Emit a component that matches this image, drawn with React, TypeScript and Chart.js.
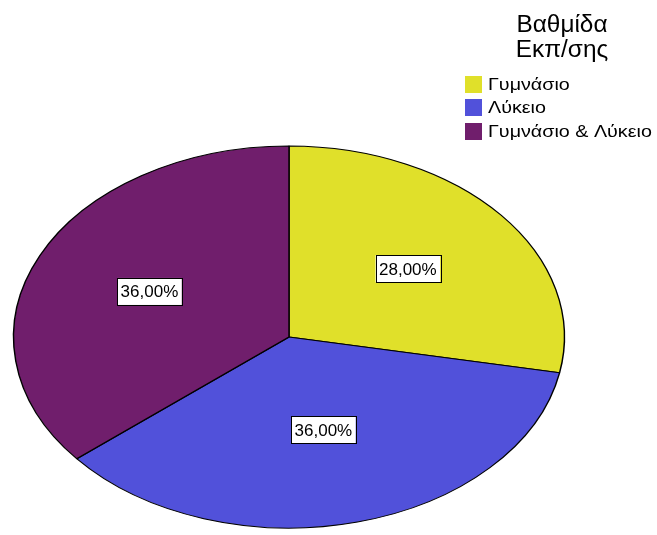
import React, { useEffect, useRef } from "react";
import { Chart, registerables } from "chart.js";

Chart.register(...registerables);

const categories = ["Γυμνάσιο", "Λύκειο", "Γυμνάσιο & Λύκειο"];
const percentValues = [28, 36, 36];
const sliceColors = ["#E0E02A", "#5151DA", "#701E6C"];
const legendTitle = ["Βαθμίδα", "Εκπ/σης"];

const SX = 274 / 190;
const FONT = '"Liberation Sans", Arial, sans-serif';

const ellipsePlugin = {
  id: "ellipse",
  beforeDatasetsDraw(chart: any) {
    const arc = chart.getDatasetMeta(0).data[0];
    if (!arc) return;
    const ctx = chart.ctx;
    ctx.save();
    ctx.translate(arc.x, arc.y);
    ctx.scale(SX, 1);
    ctx.translate(-arc.x, -arc.y);
  },
  afterDatasetsDraw(chart: any) {
    chart.ctx.restore();
  },
};

const labelPlugin = {
  id: "sliceLabels",
  afterDraw(chart: any) {
    const ctx = chart.ctx;
    const meta = chart.getDatasetMeta(0);
    const data = chart.data.datasets[0].data as number[];
    const total = data.reduce((a, b) => a + b, 0);
    ctx.save();
    ctx.font = `17px ${FONT}`;
    ctx.textAlign = "center";
    ctx.textBaseline = "middle";
    meta.data.forEach((arc: any, i: number) => {
      const { startAngle, endAngle, outerRadius, x, y } = arc.getProps(
        ["startAngle", "endAngle", "outerRadius", "x", "y"],
        true
      );
      const mid = (startAngle + endAngle) / 2;
      const f = 0.56 - 0.06 * Math.max(0, Math.sin(mid));
      const px = x + Math.cos(mid) * outerRadius * f * SX;
      const py = y + Math.sin(mid) * outerRadius * f;
      const txt = ((data[i] / total) * 100).toFixed(2).replace(".", ",") + "%";
      const w = ctx.measureText(txt).width + 7;
      const h = 27;
      ctx.fillStyle = "#ffffff";
      ctx.fillRect(px - w / 2, py - h / 2, w, h);
      ctx.strokeStyle = "#000000";
      ctx.lineWidth = 1;
      ctx.strokeRect(Math.round(px - w / 2) + 0.5, Math.round(py - h / 2) + 0.5, Math.round(w), h);
      ctx.fillStyle = "#000000";
      ctx.fillText(txt, px, py + 1);
    });
    ctx.restore();
  },
};

const legendPlugin = {
  id: "customLegend",
  afterDraw(chart: any) {
    const ctx = chart.ctx;
    ctx.save();
    ctx.fillStyle = "#000000";
    ctx.font = `23px ${FONT}`;
    ctx.textAlign = "center";
    ctx.textBaseline = "alphabetic";
    legendTitle.forEach((line, i) => {
      ctx.save();
      ctx.translate(562, 32 + i * 25);
      ctx.scale(1.06, 1);
      ctx.fillText(line, 0, 0);
      ctx.restore();
    });
    ctx.font = `17px ${FONT}`;
    ctx.textAlign = "left";
    ctx.textBaseline = "middle";
    const tops = [76, 99, 123];
    categories.forEach((c, i) => {
      ctx.fillStyle = sliceColors[i];
      ctx.fillRect(465, tops[i], 17, 17);
      ctx.fillStyle = "#000000";
      ctx.save();
      ctx.translate(488, tops[i] + 9);
      ctx.scale(1.16, 1);
      ctx.fillText(c, 0, 0);
      ctx.restore();
    });
    ctx.restore();
  },
};

export default function App() {
  const ref = useRef<HTMLCanvasElement>(null);
  useEffect(() => {
    document.body.style.margin = "0";
    const chart = new Chart(ref.current!, {
      type: "pie",
      data: {
        labels: categories,
        datasets: [
          {
            data: percentValues,
            backgroundColor: sliceColors,
            borderColor: "#000000",
            borderWidth: 1,
          },
        ],
      },
      options: {
        responsive: false,
        animation: false,
        events: [],
        radius: 191,
        layout: { padding: { left: 0, right: 79, top: 139, bottom: 0 } },
        plugins: {
          legend: { display: false },
          tooltip: { enabled: false },
        },
      } as any,
      plugins: [ellipsePlugin, labelPlugin, legendPlugin],
    });
    return () => chart.destroy();
  }, []);
  return (
    <div style={{ position: "absolute", left: 0, top: 0, background: "#fff" }}>
      <canvas ref={ref} width={657} height={535} style={{ width: 657, height: 535, display: "block" }} />
    </div>
  );
}
